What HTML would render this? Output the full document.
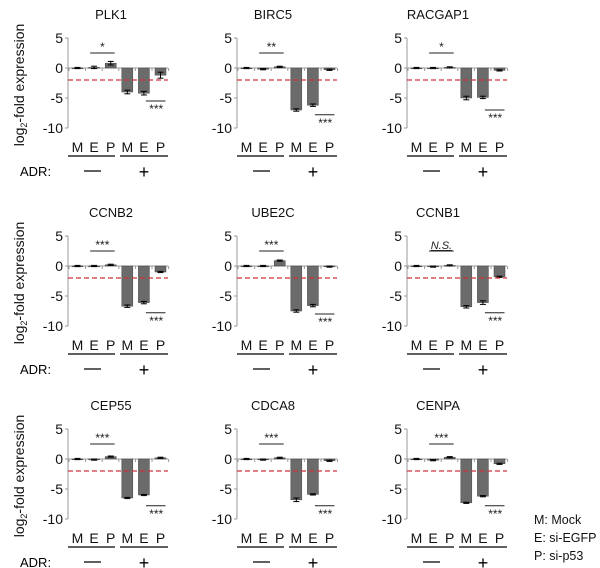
<!DOCTYPE html>
<html><head><meta charset="utf-8"><style>
body{margin:0;background:#fff}
svg{display:block;font-family:"Liberation Sans",sans-serif}
</style></head><body>
<svg id="c" width="600" height="568" viewBox="0 0 600 568"></svg>
<script>
const genes=["PLK1","BIRC5","RACGAP1","CCNB2","UBE2C","CCNB1","CEP55","CDCA8","CENPA"];
const categories=["M","E","P","M","E","P"];
const values=[
[0,0.1,0.8,-4,-4.2,-1.2],
[0,-0.2,0.2,-7,-6.2,-0.3],
[0,0,0.1,-5,-4.9,-0.4],
[0,0,0.2,-6.7,-6.1,-1],
[0,0,0.9,-7.5,-6.6,-0.1],
[0,-0.1,0.1,-6.8,-6.1,-1.8],
[0,-0.1,0.4,-6.5,-6.0,0.2],
[0,-0.1,0.2,-6.8,-5.9,-0.3],
[0,-0.2,0.3,-7.3,-6.2,-0.8]];
const errs=[
[0.1,0.2,0.3,0.3,0.3,0.5],[0.1,0.1,0.1,0.2,0.2,0.1],[0.1,0.1,0.1,0.3,0.2,0.1],
[0.1,0.1,0.1,0.2,0.2,0.1],[0.1,0.1,0.1,0.2,0.2,0.1],[0.1,0.1,0.1,0.2,0.3,0.1],
[0.1,0.1,0.1,0.1,0.1,0.1],[0.1,0.1,0.1,0.3,0.1,0.1],[0.1,0.1,0.1,0.1,0.1,0.1]];
const topSig=["*","**","*","***","***","N.S.","***","***","***"];
const botLine=[-5.5,-7.8,-7,-7.8,-8,-7.8,-7.8,-7.8,-7.8];
const yTicks=[5,0,-5,-10];
const cutoff=-2;
const svg=document.getElementById('c');
const NS="http://www.w3.org/2000/svg";
function mk(t,a,txt){const e=document.createElementNS(NS,t);for(const k in a)e.setAttribute(k,a[k]);if(txt!=null)e.textContent=txt;svg.appendChild(e);return e;}
const rowOff=[0,198,391], colOff=[0,169,339], titleDx=[43,36,31];
genes.forEach((g,i)=>{
  const r=Math.floor(i/3), c=i%3, ox=68+colOff[c], oy=rowOff[r];
  const y=v=>oy+68-v*6, x=j=>ox+9.5+j*16.6;
  let t=mk('text',{x:ox+titleDx[c],y:oy+19,'font-size':13,'text-anchor':'middle',fill:'#111'},g);
  
  let ax=mk('line',{x1:ox,y1:y(5),x2:ox,y2:y(-10),stroke:'#999','stroke-width':1});
  
  yTicks.forEach(v=>{mk('line',{x1:ox-3,y1:y(v),x2:ox,y2:y(v),stroke:'#999'});
    let tl=mk('text',{x:ox-5,y:y(v)+5,'font-size':14,'text-anchor':'end',fill:'#111'},v);
    });
  let xa=mk('line',{x1:ox,y1:y(0),x2:ox+100,y2:y(0),stroke:'#999'});
  
  for(let j=0;j<=6;j++)mk('line',{x1:ox+1+j*16.6,y1:y(0),x2:ox+1+j*16.6,y2:y(0)+3,stroke:'#999'});
  values[i].forEach((v,j)=>{
    const y0=Math.min(y(0),y(v)),h=Math.max(Math.abs(y(v)-y(0)),0.8);
    let b=mk('rect',{x:x(j)-5.5,y:y0,width:11,height:h,fill:'#6b6b6b',stroke:'#444','stroke-width':0.5});
    
    const e=errs[i][j];
    mk('line',{x1:x(j),y1:y(v-e),x2:x(j),y2:y(v+e),stroke:'#000'});
    mk('line',{x1:x(j)-3,y1:y(v+e),x2:x(j)+3,y2:y(v+e),stroke:'#000'});
    mk('line',{x1:x(j)-3,y1:y(v-e),x2:x(j)+3,y2:y(v-e),stroke:'#000'});
    let cl=mk('text',{x:x(j),y:oy+152,'font-size':14,'text-anchor':'middle',fill:'#111'},categories[j]);
    
  });
  let dl=mk('line',{x1:ox,y1:y(cutoff),x2:ox+100,y2:y(cutoff),stroke:'#d0303a','stroke-width':1.3,'stroke-dasharray':'5,3'});
  
  mk('line',{x1:x(1)-4,y1:y(2.5),x2:x(2)+4,y2:y(2.5),stroke:'#222'});
  let st=mk('text',{x:(x(1)+x(2))/2,y:y(2.5)-2,'font-size':topSig[i]=="N.S."?11:12,'text-anchor':'middle',fill:'#222','font-style':topSig[i]=="N.S."?'italic':'normal','text-decoration':topSig[i]=="N.S."?'underline':'none'},topSig[i]);
  
  mk('line',{x1:x(4)+2,y1:y(botLine[i]),x2:x(5)+5,y2:y(botLine[i]),stroke:'#222'});
  let sb=mk('text',{x:(x(4)+x(5))/2+4,y:y(botLine[i])+12,'font-size':12,'text-anchor':'middle',fill:'#222'},"***");
  
  mk('line',{x1:ox,y1:oy+156,x2:ox+47,y2:oy+156,stroke:'#000','stroke-width':1.2});
  mk('line',{x1:ox+52,y1:oy+156,x2:ox+100,y2:oy+156,stroke:'#000','stroke-width':1.2});
  let m=mk('line',{x1:ox+16,y1:oy+171,x2:ox+33,y2:oy+171,stroke:'#000','stroke-width':1.2});
  
  let p=mk('text',{x:ox+76,y:oy+178,'font-size':18,'text-anchor':'middle'},"+");
  
  if(c==0){
    let yl=mk('text',{transform:`translate(24,${oy+85}) rotate(-90)`,'font-size':14,'text-anchor':'middle',fill:'#111'});
    yl.innerHTML='log<tspan font-size="9" dy="3">2</tspan><tspan dy="-3">-fold expression</tspan>';
    
    let ad=mk('text',{x:20,y:oy+176,'font-size':13},"ADR:");
    
  }
});
["M: Mock","E: si-EGFP","P: si-p53"].forEach((s,k)=>{
  let l=mk('text',{x:534,y:524+k*18,'font-size':12.5,fill:'#111'},s);
  
});
</script>
</body></html>
